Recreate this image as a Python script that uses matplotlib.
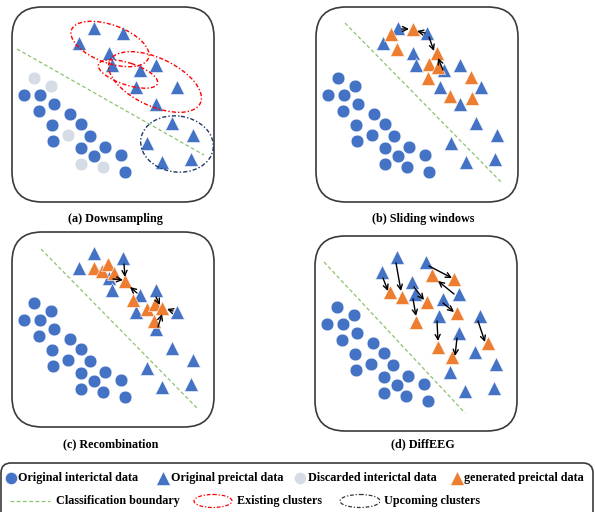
import numpy as np
import matplotlib
matplotlib.use("Agg")
import matplotlib.pyplot as plt
from matplotlib.patches import FancyBboxPatch, Ellipse

plt.rcParams['font.family'] = ['Liberation Serif', 'DejaVu Serif']
plt.rcParams['font.weight'] = 'bold'

BLUE = '#4472C4'
ORANGE = '#ED7D31'
GRAY = '#D6DCE5'
GREEN = '#8DC26F'
NAVY = '#1F3864'

# point layout shared by all panels (panel-local pixel coords)
tri_x = [94, 123, 79, 109, 112, 140, 156, 136, 177, 156, 172, 193, 147, 162, 191]
tri_y = [28, 33, 43, 53, 65, 70, 65, 87, 87, 104, 123, 135, 143, 162, 159]

circ_x = [24, 40, 54, 39, 70, 52, 81, 53, 90, 81, 105, 94, 121, 125, 34, 51, 68, 81, 103]
circ_y = [95, 95, 104, 111, 114, 125, 124, 141, 136, 148, 147, 156, 155, 172, 78, 86, 135, 164, 167]
# circles dropped by downsampling in panel (a)
discarded = [0] * 14 + [1] * 5

# classification boundary per panel: (x0, y0, x1, y1)
boundary = {
    'a': (17, 49, 204, 155),
    'b': (41, 23, 198, 183),
    'c': (41, 24, 197, 183),
    'd': (21, 33, 162, 184),
}

# generated preictal samples
gen_b_x = [87, 109, 93, 133, 125, 134, 124, 167, 146, 168]
gen_b_y = [34, 29, 49, 53, 64, 67, 78, 77, 96, 98]
gen_c_x = [94, 102, 108, 114, 125, 133, 147, 155, 162, 154]
gen_c_y = [43, 46, 39, 48, 56, 75, 84, 79, 83, 96]
gen_d_x = [87, 99, 113, 124, 129, 151, 154, 135, 149, 185]
gen_d_y = [63, 68, 93, 73, 46, 50, 84, 118, 128, 114]

# arrows: start x, start y, end x, end y
arr_b = [(98, 29, 105, 29), (121, 33, 113, 31), (125, 37, 130, 51), (139, 70, 134, 58)]
arr_c = [(124, 39, 125, 52), (113, 54, 123, 55), (137, 68, 130, 62),
         (156, 72, 160, 80), (173, 86, 167, 84), (158, 102, 162, 89)]
arr_d = [(80, 49, 85, 62), (93, 34, 98, 62), (111, 58, 121, 71), (110, 70, 113, 87),
         (126, 37, 149, 49), (151, 65, 135, 52), (140, 74, 151, 83), (134, 92, 135, 112),
         (154, 109, 152, 127), (175, 92, 182, 113)]

# clusters in panel (a): cx, cy, width, height, angle
existing = [(110, 44, 82, 38, 20), (128, 74, 62, 22, 18), (155, 82, 100, 48, 25)]
upcoming = [(177, 144, 73, 56, 8)]

captions = ['(a) Downsampling', '(b) Sliding windows', '(c) Recombination', '(d) DiffEEG']

W, H = 595, 512
fig = plt.figure(figsize=(W / 100, H / 100), dpi=100)

over = fig.add_axes([0, 0, 1, 1])
over.set_xlim(0, W)
over.set_ylim(H, 0)
over.axis('off')

offsets = {'a': (0, 0), 'b': (304, 0), 'c': (0, 225), 'd': (303, 229)}
PW, PH = 230, 225
CMS, TMS = 9.2, 10


def panel(key):
    ox, oy = offsets[key]
    ax = fig.add_axes([ox / W, 1 - (oy + PH) / H, PW / W, PH / H])
    ax.set_xlim(0, PW)
    ax.set_ylim(PH, 0)
    ax.axis('off')
    box = FancyBboxPatch((12, 7), 202, 195, boxstyle='round,pad=0,rounding_size=30',
                         fc='white', ec='#3a3a3a', lw=1.2, zorder=0, clip_on=False)
    ax.add_patch(box)
    x0, y0, x1, y1 = boundary[key]
    ax.plot([x0, x1], [y0, y1], color=GREEN, lw=0.9, ls=(0, (3, 2)), zorder=1)
    return ax


cx = np.array(circ_x)
cy = np.array(circ_y)
disc = np.array(discarded) == 1

for key in 'abcd':
    ax = panel(key)
    if key == 'a':
        ax.plot(cx[~disc], cy[~disc], 'o', ms=CMS, color=BLUE, mec='white', mew=0.4, zorder=3)
        ax.plot(cx[disc], cy[disc], 'o', ms=CMS, color=GRAY, mec='white', mew=0.4, zorder=3)
    else:
        ax.plot(cx, cy, 'o', ms=CMS, color=BLUE, mec='white', mew=0.4, zorder=3)
    ax.plot(tri_x, tri_y, '^', ms=TMS, color=BLUE, mec='white', mew=0.4, zorder=3)

    if key == 'a':
        for (ex, ey, ew, eh, ang) in existing:
            ax.add_patch(Ellipse((ex, ey), ew, eh, angle=ang, fill=False, ec='red',
                                 lw=1.0, ls=(0, (3, 1.5, 1, 1.5)), zorder=4))
        for (ex, ey, ew, eh, ang) in upcoming:
            ax.add_patch(Ellipse((ex, ey), ew, eh, angle=ang, fill=False, ec=NAVY,
                                 lw=1.0, ls=(0, (3, 1.5, 1, 1.5)), zorder=4))
    gens = {'b': (gen_b_x, gen_b_y, arr_b), 'c': (gen_c_x, gen_c_y, arr_c),
            'd': (gen_d_x, gen_d_y, arr_d)}
    if key in gens:
        gx, gy, arrs = gens[key]
        ax.plot(gx, gy, '^', ms=TMS, color=ORANGE, mec='white', mew=0.4, zorder=4)
        for (sx, sy, tx, ty) in arrs:
            ax.annotate('', xy=(tx, ty), xytext=(sx, sy),
                        arrowprops=dict(arrowstyle='->', color='black', lw=1.0,
                                        shrinkA=0, shrinkB=0, mutation_scale=9),
                        zorder=5)

# captions
cap_pos = [(115, 219), (423, 219), (111, 444), (423, 444)]
for txt, (tx, ty) in zip(captions, cap_pos):
    over.text(tx, ty, txt, ha='center', va='center', fontsize=8.7, fontweight='bold')

# legend box
lbox = FancyBboxPatch((1, 463), 592, 70, boxstyle='round,pad=0,rounding_size=10',
                      fc='white', ec='#3a3a3a', lw=1.2, clip_on=True)
over.add_patch(lbox)

LFS = 8.7
row1, row2 = 478, 501
over.plot(11, row1, 'o', ms=8.8, color=BLUE, mec='white', mew=0.4)
over.text(18, row1, 'Original interictal data', va='center', fontsize=LFS)
over.plot(163, row1, '^', ms=9.6, color=BLUE, mec='white', mew=0.4)
over.text(171, row1, 'Original preictal data', va='center', fontsize=LFS)
over.plot(300, row1, 'o', ms=8.8, color=GRAY, mec='white', mew=0.4)
over.text(308, row1, 'Discarded interictal data', va='center', fontsize=LFS)
over.plot(457, row1, '^', ms=9.6, color=ORANGE, mec='white', mew=0.4)
over.text(464, row1, 'generated preictal data', va='center', fontsize=LFS)

over.plot([10, 50], [row2, row2], color=GREEN, lw=0.9, ls=(0, (3, 2)))
over.text(56, row2, 'Classification boundary', va='center', fontsize=LFS)
over.add_patch(Ellipse((213, row2), 38, 13, fill=False, ec='red', lw=0.9,
                       ls=(0, (3, 1.5, 1, 1.5))))
over.text(237, row2, 'Existing clusters', va='center', fontsize=LFS)
over.add_patch(Ellipse((360, row2), 40, 13, fill=False, ec='#333333', lw=0.9,
                       ls=(0, (3, 1.5, 1, 1.5))))
over.text(384, row2, 'Upcoming clusters', va='center', fontsize=LFS)

fig.savefig('out.png', dpi=100)
